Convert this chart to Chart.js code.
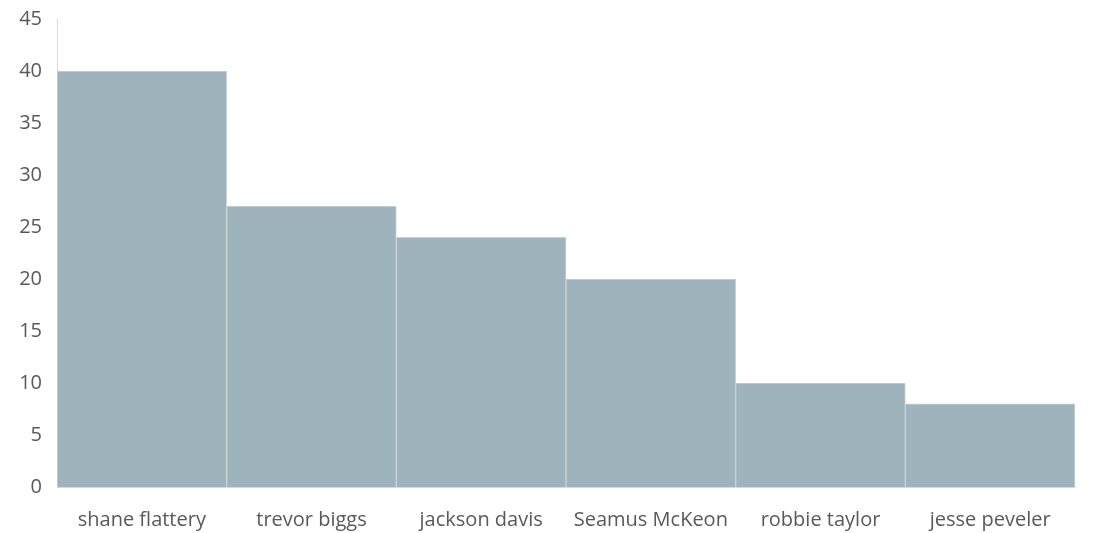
<!DOCTYPE html>
<html>
<head>
<meta charset="utf-8">
<script src="https://cdn.jsdelivr.net/npm/chart.js@4"></script>
<style>
  html, body { margin: 0; padding: 0; background: #fff; }
  #wrap { width: 1107px; height: 533px; }
</style>
</head>
<body>
<div id="wrap"><canvas id="myChart" width="1107" height="533"></canvas></div>
<script>
// donnees
var noms = ['shane flattery', 'trevor biggs', 'jackson davis', 'Seamus McKeon', 'robbie taylor', 'jesse peveler'];
var valeurs = [40, 27, 24, 20, 10, 8];
var yMax = 45;
var yStep = 5;

const ctx = document.getElementById('myChart');

new Chart(ctx, {
  type: 'bar',
  data: {
    labels: noms,
    datasets: [{
      data: valeurs,
      backgroundColor: '#9fb3bd',
      borderColor: '#c9d4d9',
      borderWidth: 1,
      categoryPercentage: 1,
      barPercentage: 1
    }]
  },
  options: {
    responsive: false,
    animation: false,
    layout: { padding: { top: 0, right: 32, bottom: 0, left: 0 } },
    plugins: { legend: { display: false }, tooltip: { enabled: false } },
    scales: {
      x: {
        afterFit: function(scale) { scale.height = 46; },
        grid: { display: false },
        border: { display: true, color: '#d9d9d9' },
        ticks: { color: '#595959', font: { family: 'Open Sans', size: 20 }, padding: 13, maxRotation: 0 }
      },
      y: {
        min: 0,
        max: yMax,
        afterFit: function(scale) { scale.width = 57; },
        grid: { display: false },
        border: { display: true, color: '#d9d9d9' },
        ticks: { stepSize: yStep, color: '#595959', font: { family: 'Open Sans', size: 20 }, padding: 7 }
      }
    }
  }
});
</script>
</body>
</html>
